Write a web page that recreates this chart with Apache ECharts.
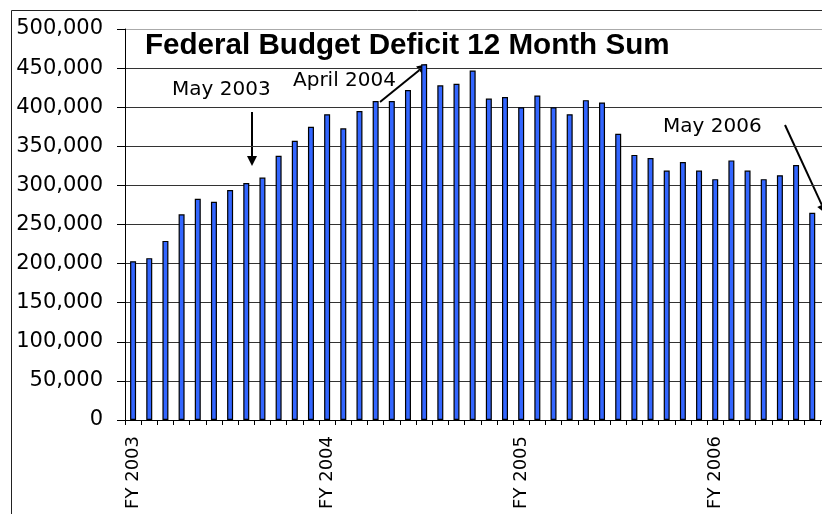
<!DOCTYPE html>
<html>
<head>
<meta charset="utf-8">
<title>Federal Budget Deficit 12 Month Sum</title>
<script src="https://cdn.jsdelivr.net/npm/echarts@6/dist/echarts.min.js"></script>
<style>
  html, body { margin: 0; padding: 0; background: #fff; }
  #chart { width: 822px; height: 514px; }
</style>
</head>
<body>
<div id="chart"></div>
<script>
// months from Oct 2002 (start of FY 2003) to May 2006
const monthNames = ['Oct', 'Nov', 'Dec', 'Jan', 'Feb', 'Mar', 'Apr', 'May', 'Jun', 'Jul', 'Aug', 'Sep']
const months = []
for (let i = 0; i < 44; i++) {
  const year = 2002 + Math.floor((i + 9) / 12)
  months.push(monthNames[i % 12] + ' ' + year)
}
const fyTicks = ['FY 2003', 'FY 2004', 'FY 2005', 'FY 2006']

// 12 month sum of the deficit; the May 2006 bar is off the picture
const deficit = [
  203000, 207000, 229000, 263000, 283000, 279000, 294000, 303000, 310000, 338000, 357000, 375000,
  391000, 373000, 395000, 408000, 408000, 422000, 455000, 428000, 430000, 447000, 411000, 413000,
  400000, 415000, 400000, 391000, 409000, 406000, 366000, 339000, 335000, 319000, 330000, 319000,
  308000, 332000, 319000, 308000, 313000, 326000, 265000, '-'
]

const notes = [
  { text: 'May 2003', x: 172, y: 90 },
  { text: 'April 2004', x: 293, y: 81 },
  { text: 'May 2006', x: 663, y: 127 }
]
const arrows = [
  [252, 112, 252, 166],
  [380, 102, 427, 64],
  [785, 125, 826, 214]
]

function arrow(a) {
  const [x1, y1, x2, y2] = a
  const len = Math.hypot(x2 - x1, y2 - y1)
  const ux = (x2 - x1) / len
  const uy = (y2 - y1) / len
  const hl = 10
  const hw = 5
  const bx = x2 - ux * hl
  const by = y2 - uy * hl
  return {
    type: 'group',
    children: [
      { type: 'line', shape: { x1: x1, y1: y1, x2: bx, y2: by }, style: { stroke: '#000', lineWidth: 2 } },
      {
        type: 'polygon',
        shape: { points: [[x2, y2], [bx - uy * hw, by + ux * hw], [bx + uy * hw, by - ux * hw]] },
        style: { fill: '#000' }
      }
    ]
  }
}

const myChart = echarts.init(document.getElementById('chart'))

const splitColors = ['#333', '#333', '#333', '#333', '#333', '#333', '#333', '#333', '#333', '#333', '#aaa']

myChart.setOption({
  animation: false,
  backgroundColor: '#fff',
  title: {
    text: 'Federal Budget Deficit 12 Month Sum',
    left: 145,
    top: 31,
    padding: 0,
    textStyle: {
      fontFamily: 'Liberation Sans, Arial, sans-serif',
      fontWeight: 'bold',
      fontSize: 29.6,
      color: '#000'
    }
  },
  grid: {
    left: 125,
    top: 29,
    width: 711.5,
    bottom: 94,
    containLabel: false,
    outerBoundsMode: 'none'
  },
  xAxis: {
    type: 'category',
    data: months,
    axisLine: { show: true, lineStyle: { color: '#000', width: 1 } },
    axisTick: { show: true, interval: 0, alignWithLabel: false, length: 5, lineStyle: { color: '#000' } },
    axisLabel: {
      interval: 0,
      rotate: 90,
      margin: 16,
      fontFamily: 'DejaVu Sans, sans-serif',
      fontSize: 18,
      color: '#000',
      formatter: function(v, i) {
        return i % 12 === 0 ? fyTicks[i / 12] : ''
      }
    },
    splitLine: { show: false }
  },
  yAxis: {
    type: 'value',
    min: 0,
    max: 500000,
    interval: 50000,
    axisLine: { show: true, lineStyle: { color: '#000', width: 1 } },
    axisTick: { show: true, length: 8, lineStyle: { color: '#000' } },
    axisLabel: {
      margin: 22,
      fontFamily: 'DejaVu Sans, sans-serif',
      fontSize: 21,
      color: '#000',
      formatter: function(v) {
        return v.toLocaleString('en-US')
      }
    },
    splitLine: { show: true, lineStyle: { color: splitColors, width: 1 } }
  },
  series: [
    {
      name: 'Deficit',
      type: 'bar',
      data: deficit,
      barWidth: 6,
      itemStyle: {
        color: '#3366ff',
        borderColor: '#000',
        borderWidth: 1.2
      }
    }
  ],
  graphic: [
    {
      type: 'rect',
      shape: { x: 11.5, y: 10.5, width: 900, height: 600 },
      style: { fill: 'none', stroke: '#222', lineWidth: 1 },
      silent: true
    }
  ].concat(notes.map(function(n) {
    return {
      type: 'text',
      x: n.x,
      y: n.y,
      style: {
        text: n.text,
        fontFamily: 'DejaVu Sans, sans-serif',
        fontSize: 20,
        fill: '#000',
        verticalAlign: 'middle'
      }
    }
  })).concat(arrows.map(arrow))
})
</script>
</body>
</html>
